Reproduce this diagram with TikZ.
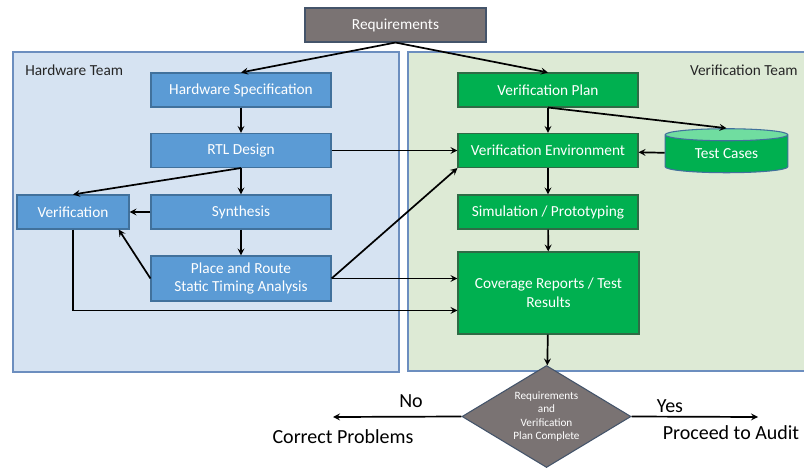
\documentclass[tikz,border=0pt]{standalone}
\usepackage{fontspec}
\setmainfont{Carlito}
\usetikzlibrary{arrows}
\usetikzlibrary{positioning,shapes.geometric,calc}

\definecolor{hwfill}{HTML}{D6E3F2}
\definecolor{vfill}{HTML}{DDEAD5}
\definecolor{panelline}{HTML}{6C8EBF}
\definecolor{bluebox}{HTML}{5B9BD5}
\definecolor{blueline}{HTML}{41719C}
\definecolor{greenbox}{HTML}{00B050}
\definecolor{greenline}{HTML}{2F6B45}
\definecolor{greybox}{HTML}{7A7373}
\definecolor{greyline}{HTML}{44546A}
\definecolor{caseend}{HTML}{70DDA0}

\begin{document}
\begin{tikzpicture} [->,>=stealth,x=0.75pt,y=-0.75pt,line width=0.45mm,
  box/.style={rectangle,line width=0.8pt,text=white,minimum width=135pt,
    minimum height=25.5pt,inner sep=1pt,align=center,
    font=\fontsize{11.5}{14}\selectfont},
  hw/.style={box,draw=blueline,fill=bluebox},
  vf/.style={box,draw=greenline,fill=greenbox},
  panel/.style={-,draw=panelline,line width=0.8pt},
  team/.style={text=black!85,font=\fontsize{11.5}{13}\selectfont},
  answer/.style={text=black,font=\fontsize{15}{18}\selectfont}]

  \useasboundingbox (0,0) rectangle (804,468);

  % team areas
  \path[panel,fill=hwfill] (13,52) rectangle (399,372);
  \path[panel,fill=vfill] (408,52) rectangle (812,371);
  \node[team,anchor=west] (hwteam) at (20,70) {Hardware Team};
  \node[team,anchor=east] (vfteam) at (803,70) {Verification Team};

  \node[box,draw=greyline,fill=greybox,minimum width=135.75pt] (req) at (395.5,25) {Requirements};

  % hardware side
  \node[hw] (hs) at (241,90) {Hardware Specification};
  \node[hw] (rtl) at (241,150.5) {RTL Design};
  \node[hw] (syn) at (241,212) {Synthesis};
  \node[hw,minimum width=84pt] (ver) at (73,212) {Verification};
  \node[hw,minimum height=33.75pt] (pr) at (241,278.5) {Place and Route\\Static Timing Analysis};

  % verification side
  \node[vf] (vp) at (548,90) {Verification Plan};
  \node[vf] (ve) at (548,150.5) {Verification Environment};
  \node[vf] (sim) at (548,212) {Simulation / Prototyping};
  \node[vf,minimum width=135.75pt,minimum height=61.5pt] (cov) at (548.5,293) {Coverage Reports / Test\\Results};
  \node[cylinder,shape border rotate=90,aspect=0.19,draw=blueline,line width=0.8pt,
    cylinder uses custom fill,cylinder body fill=greenbox,cylinder end fill=caseend,
    minimum width=92pt,minimum height=33pt,inner sep=0pt,text=white,
    font=\fontsize{11.5}{14}\selectfont] (tc) at (726.5,154) {Test Cases};

  \node[diamond,draw=greyline,fill=greybox,line width=0.8pt,aspect=1.66,
    minimum width=126.75pt,minimum height=76.5pt,inner sep=0pt,text=white,
    align=center,font=\fontsize{8.4}{10}\selectfont] (dec) at (546.5,416.5)
    {Requirements\\and\\Verification\\Plan Complete};

  \coordinate (cp) at (333,417);
  \coordinate (pa) at (758,417);
  \node[answer] (no) at (411,401) {No};
  \node[answer] (correct) at (343,437) {Correct Problems};
  \node[answer] (yes) at (670,406) {Yes};
  \node[answer] (audit) at (731,433) {Proceed to Audit};

  \path
    (req.south) edge (hs.north)
    (req.south) edge (vp.north)
    (hs) edge (rtl)
    (rtl) edge (ve)
    (rtl.south) edge (ver.north)
    (rtl) edge (syn)
    (syn) edge (ver)
    (syn) edge (pr)
    (pr.west) edge (ver.-21)
    (pr.east) edge (ve.south west)
    (pr.east) edge (pr.east -| cov.west)
    (vp.south) edge (ve.north)
    (vp.south) edge (tc.north)
    (tc) edge (ve)
    (ve) edge (sim)
    (sim) edge (cov)
    (cov) edge (dec)
    (dec.west) edge (cp)
    (dec.east) edge (pa);

  \draw (ver.south) |- ($(cov.south west)!0.29!(cov.north west)$);

\end{tikzpicture}
\end{document}
